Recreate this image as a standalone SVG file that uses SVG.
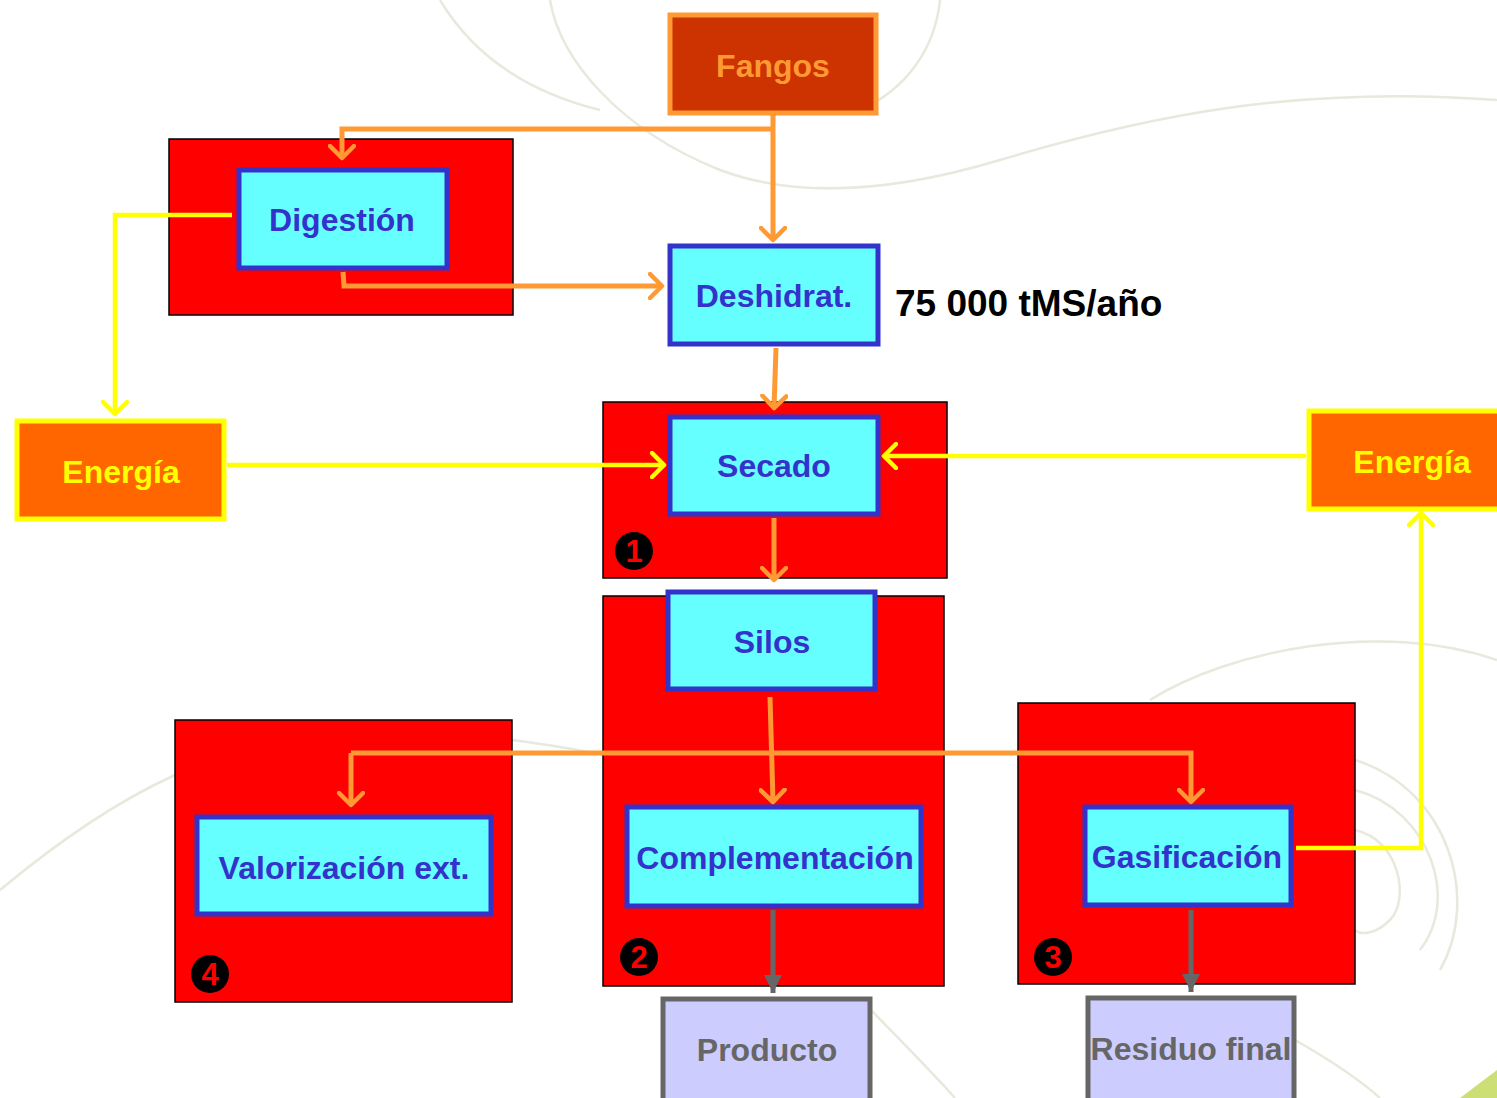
<svg xmlns="http://www.w3.org/2000/svg" width="1497" height="1098" viewBox="0 0 1497 1098">
<style>
.bg{fill:none;stroke:#e2e2d3;stroke-width:2.5;opacity:0.8}
.zone{fill:#FF0000;stroke:#000;stroke-width:1.5}
.proc{fill:#66FFFF;stroke:#3333CC;stroke-width:5}
.proct{fill:#3333CC;font-family:"Liberation Sans",Arial,sans-serif;font-weight:bold;font-size:32px;text-anchor:middle}
.en{fill:#FF6600;stroke:#FFFF00;stroke-width:5}
.ent{fill:#FFFF00;font-family:"Liberation Sans",Arial,sans-serif;font-weight:bold;font-size:32px;text-anchor:middle}
.out{fill:#CCCCFF;stroke:#666666;stroke-width:5}
.outt{fill:#666666;font-family:"Liberation Sans",Arial,sans-serif;font-weight:bold;font-size:32px;text-anchor:middle}
.num{fill:#000}
.numt{fill:#FF0000;font-family:"Liberation Sans",Arial,sans-serif;font-weight:bold;font-size:31px;text-anchor:middle}
.oc{fill:none;stroke:#FF9933;stroke-width:5}
.yc{fill:none;stroke:#FFFF00;stroke-width:4.5}
.gc{fill:none;stroke:#666666;stroke-width:5}
</style>
<defs>
<marker id="ao" markerWidth="28" markerHeight="28" refX="14" refY="14" orient="auto" markerUnits="userSpaceOnUse" viewBox="0 0 28 28">
<polyline points="2,2 14,14 2,26" fill="none" stroke="#FF9933" stroke-width="4.5" stroke-linecap="round" stroke-linejoin="round"/>
</marker>
<marker id="ay" markerWidth="28" markerHeight="28" refX="14" refY="14" orient="auto" markerUnits="userSpaceOnUse" viewBox="0 0 28 28">
<polyline points="2,2 14,14 2,26" fill="none" stroke="#FFFF00" stroke-width="4.5" stroke-linecap="round" stroke-linejoin="round"/>
</marker>
<marker id="ag" markerWidth="20" markerHeight="20" refX="18" refY="10" orient="auto" markerUnits="userSpaceOnUse" viewBox="0 0 20 20">
<polygon points="0,1 18,10 0,19" fill="#666666"/>
</marker>
</defs>
<rect width="1497" height="1098" fill="#ffffff"/>
<g id="background">
<path class="bg" d="M550,0 C560,60 620,130 720,170 C800,200 900,190 1000,160 C1150,115 1300,85 1497,100"/>
<path class="bg" d="M440,0 C470,50 520,90 600,110"/>
<path class="bg" d="M940,0 C935,50 905,90 860,110"/>
<path class="bg" d="M0,890 C60,840 120,800 175,775"/>
<path class="bg" d="M512,740 C550,745 580,750 603,755"/>
<path class="bg" d="M1150,700 C1230,650 1380,620 1497,660"/>
<path class="bg" d="M1355,760 C1450,790 1480,900 1440,970"/>
<path class="bg" d="M1355,790 C1430,810 1460,900 1420,950"/>
<path class="bg" d="M1355,830 C1400,840 1410,900 1390,920 C1375,935 1360,935 1355,930"/>
<path class="bg" d="M871,1010 C900,1040 930,1070 955,1098"/>
<path class="bg" d="M1295,1040 C1330,1060 1360,1080 1380,1098"/>
<path d="M1460,1098 L1497,1070 L1497,1098 Z" fill="#b5d23a" opacity="0.7"/>
</g>
<g id="zones">
<rect id="zone-digestion" class="zone" x="169" y="139" width="344" height="176"/>
<rect id="zone-secado" class="zone" x="603" y="402" width="344" height="176"/>
<rect id="zone-silos" class="zone" x="603" y="596" width="341" height="390"/>
<rect id="zone-valorizacion" class="zone" x="175" y="720" width="337" height="282"/>
<rect id="zone-gasificacion" class="zone" x="1018" y="703" width="337" height="281"/>
</g>
<g id="connectors">
<polyline class="oc" points="773,114 773,240" marker-end="url(#ao)"/>
<polyline class="oc" points="773,129 342,129 342,158" marker-end="url(#ao)"/>
<polyline class="oc" points="343,272 344,286 662,286" marker-end="url(#ao)"/>
<polyline class="oc" points="776,348 774,408" marker-end="url(#ao)"/>
<polyline class="oc" points="774,518 774,580" marker-end="url(#ao)"/>
<polyline class="oc" points="770,697 773,802" marker-end="url(#ao)"/>
<polyline class="oc" points="351,753 1191,753 1191,802" marker-end="url(#ao)"/>
<polyline class="oc" points="351,753 351,805" marker-end="url(#ao)"/>
<polyline class="yc" points="232,215 115,215 115,414" marker-end="url(#ay)"/>
<polyline class="yc" points="227,465 664,465" marker-end="url(#ay)"/>
<polyline class="yc" points="1306,456 884,456" marker-end="url(#ay)"/>
<polyline class="yc" points="1296,848 1421,848 1421,513" marker-end="url(#ay)"/>
<polyline class="gc" points="773,910 773,993" marker-end="url(#ag)"/>
<polyline class="gc" points="1191,910 1191,992" marker-end="url(#ag)"/>
</g>
<g id="fangos">
<rect x="670" y="15" width="206" height="98" fill="#CC3300" stroke="#FF9933" stroke-width="5"/>
<text x="773" y="77" fill="#FF9933" font-family="Liberation Sans, Arial, sans-serif" font-weight="bold" font-size="32" text-anchor="middle">Fangos</text>
</g>
<g id="digestion">
<rect class="proc" x="239" y="170" width="208" height="98"/>
<text class="proct" x="342" y="231">Digestión</text>
</g>
<g id="deshidrat">
<rect class="proc" x="670" y="246" width="208" height="98"/>
<text class="proct" x="774" y="307">Deshidrat.</text>
</g>
<g id="capacidad">
<text x="895" y="316" fill="#000" font-family="Liberation Sans, Arial, sans-serif" font-weight="bold" font-size="37">75 000 tMS/año</text>
</g>
<g id="secado">
<rect class="proc" x="670" y="417" width="208" height="97"/>
<text class="proct" x="774" y="477">Secado</text>
</g>
<g id="num1"><circle class="num" cx="634" cy="551" r="19"/><text class="numt" x="634" y="562">1</text></g>
<g id="energia-izq">
<rect class="en" x="17" y="421" width="207" height="98"/>
<text class="ent" x="121" y="483">Energía</text>
</g>
<g id="energia-der">
<rect class="en" x="1309" y="411" width="195" height="98"/>
<text class="ent" x="1412" y="473">Energía</text>
</g>
<g id="silos">
<rect class="proc" x="668" y="592" width="207" height="97"/>
<text class="proct" x="772" y="653">Silos</text>
</g>
<g id="complementacion">
<rect class="proc" x="627" y="807" width="294" height="99"/>
<text class="proct" x="775" y="869">Complementación</text>
</g>
<g id="num2"><circle class="num" cx="639" cy="957" r="19"/><text class="numt" x="639" y="968">2</text></g>
<g id="valorizacion">
<rect class="proc" x="197" y="817" width="294" height="97"/>
<text class="proct" x="344" y="879">Valorización ext.</text>
</g>
<g id="num4"><circle class="num" cx="210" cy="974" r="19"/><text class="numt" x="210" y="985">4</text></g>
<g id="gasificacion">
<rect class="proc" x="1085" y="807" width="206" height="98"/>
<text class="proct" x="1187" y="868">Gasificación</text>
</g>
<g id="num3"><circle class="num" cx="1053" cy="957" r="19"/><text class="numt" x="1053" y="968">3</text></g>
<g id="producto">
<rect class="out" x="663" y="999" width="207" height="104"/>
<text class="outt" x="767" y="1061">Producto</text>
</g>
<g id="residuo">
<rect class="out" x="1088" y="998" width="206" height="105"/>
<text class="outt" x="1191" y="1060">Residuo final</text>
</g>
</svg>
